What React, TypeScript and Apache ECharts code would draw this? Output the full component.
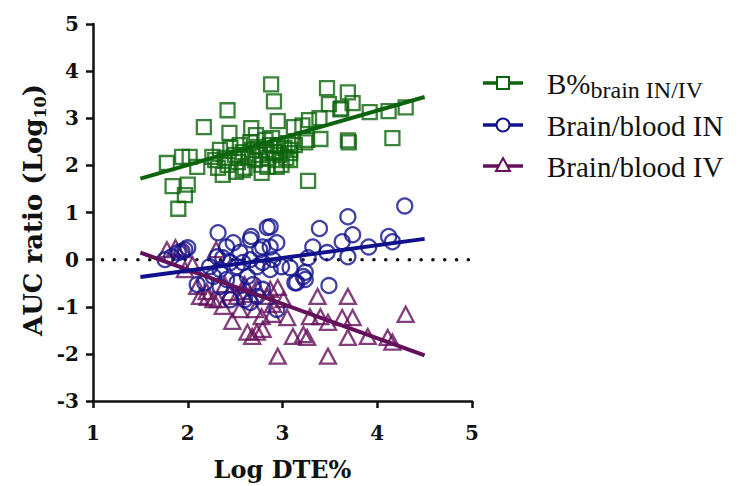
import React, { useEffect, useRef } from "react";
import * as echarts from "echarts";

// Log DTE% (x) vs AUC ratio Log10 (y)
const bPercentBrain: number[][] = [
  [2.88, 3.72], [2.91, 3.36], [3.47, 3.64], [3.69, 3.55], [3.74, 3.32], [3.49, 3.3],
  [3.62, 3.21], [2.42, 3.17], [3.92, 3.13], [4.12, 3.15], [4.3, 3.23], [2.17, 2.81],
  [3.28, 2.96], [3.39, 3.0], [3.12, 2.81], [2.95, 2.94], [2.67, 2.79], [2.44, 2.69],
  [3.26, 2.54], [3.4, 2.56], [3.7, 2.49], [3.69, 2.53], [4.16, 2.58], [1.78, 2.05],
  [1.94, 2.18], [2.02, 2.18], [2.1, 1.97], [1.84, 1.56], [2.0, 1.59], [1.97, 1.37],
  [1.9, 1.08], [3.27, 1.67], [2.37, 1.8], [2.58, 1.9], [2.84, 1.97], [2.94, 1.97],
  [3.08, 2.26], [3.21, 2.85], [3.24, 2.49], [3.61, 3.19], [2.34, 2.33], [2.39, 2.16],
  [2.45, 2.37], [2.5, 2.22], [2.53, 2.07], [2.55, 2.43], [2.58, 2.28], [2.6, 1.95],
  [2.64, 2.16], [2.66, 2.49], [2.68, 2.33], [2.71, 2.11], [2.74, 2.39], [2.76, 2.22],
  [2.78, 2.01], [2.82, 2.54], [2.83, 2.33], [2.85, 2.16], [2.87, 2.43], [2.89, 2.58],
  [2.91, 2.28], [2.93, 2.11], [2.95, 2.43], [2.97, 2.22], [2.99, 2.01], [3.02, 2.37],
  [3.04, 2.16], [3.06, 2.47], [3.08, 2.33], [2.78, 1.84], [2.51, 1.86], [2.42, 2.01],
  [3.08, 2.11], [2.72, 2.64], [2.29, 2.11], [3.13, 2.43], [2.26, 2.18], [2.32, 1.95],
];

const brainBloodIN: number[][] = [
  [4.29, 1.14], [3.69, 0.91], [3.39, 0.66], [3.74, 0.53], [3.63, 0.38], [4.12, 0.49],
  [4.16, 0.38], [3.91, 0.27], [3.69, 0.06], [3.47, 0.15], [3.32, 0.27], [3.27, 0.04],
  [3.24, -0.27], [3.24, -0.42], [3.13, -0.49], [3.49, -0.55], [3.08, -0.17], [2.99, -0.15],
  [2.87, 0.7], [2.84, 0.68], [2.67, 0.49], [2.66, 0.42], [2.32, 0.57], [2.94, 0.36],
  [2.87, 0.27], [2.79, 0.27], [2.41, 0.27], [2.48, 0.36], [2.0, 0.25], [1.97, 0.21],
  [1.94, 0.17], [1.9, 0.15], [1.83, 0.06], [1.76, 0.0], [2.1, -0.53], [2.18, -0.49],
  [2.23, -0.15], [2.34, -0.21], [2.45, -0.85], [2.6, -0.85], [2.66, -0.91], [2.73, -0.78],
  [2.79, -0.63], [2.94, -1.06], [2.34, -0.57], [2.27, -0.36], [2.45, -0.06], [2.52, -0.15],
  [2.58, -0.06], [2.66, 0.0], [2.73, -0.15], [2.79, -0.06], [2.87, -0.21], [2.9, 0.0],
  [2.63, -0.36], [2.52, -0.49], [2.41, -0.42], [2.69, -0.53], [2.31, 0.06], [2.37, 0.04],
  [3.15, -0.49], [3.22, -0.36], [2.55, 0.15], [2.76, 0.21],
];

const brainBloodIV: number[][] = [
  [1.78, 0.21], [1.87, 0.25], [1.95, 0.21], [2.3, 0.21], [2.1, -0.57], [2.13, -0.78],
  [2.21, -0.8], [2.32, -0.85], [2.37, -0.99], [2.47, -1.31], [2.63, -1.54], [2.68, -1.63],
  [2.73, -1.54], [2.79, -1.48], [2.95, -2.05], [2.78, -1.21], [2.89, -1.16], [2.95, -0.59],
  [3.05, -1.23], [3.11, -1.63], [3.22, -1.59], [3.26, -1.65], [3.29, -1.21], [3.37, -0.78],
  [3.4, -1.21], [3.48, -2.05], [3.48, -1.33], [3.63, -1.23], [3.69, -0.78], [3.74, -1.23],
  [3.69, -1.65], [3.9, -1.63], [4.11, -1.65], [4.16, -1.75], [4.3, -1.16], [2.45, -0.7],
  [2.52, -0.78], [2.58, -0.68], [2.66, -0.74], [2.73, -0.59], [2.84, -0.78], [2.87, -0.63],
  [2.2, -0.68], [2.27, -0.85], [2.55, -1.06], [2.71, -1.06], [2.9, -0.95], [3.01, -0.85],
  [2.39, -0.53], [2.6, -0.53], [2.05, -0.11], [1.97, -0.21],
];

// Regression line end points
const fitBPercent: number[][] = [[1.5, 1.72], [4.5, 3.45]];
const fitIN: number[][] = [[1.5, -0.37], [4.5, 0.44]];
const fitIV: number[][] = [[1.5, 0.15], [4.5, -2.03]];
const zeroLine: number[][] = [[1.1, 0], [5, 0]];

const xTicks = [1, 2, 3, 4, 5];
const yTicks = [-3, -2, -1, 0, 1, 2, 3, 4, 5];

const GREEN = "#0b640b";
const BLUE = "#11118c";
const PURPLE = "#640f5a";

export default function App() {
  const ref = useRef<HTMLDivElement>(null);
  useEffect(() => {
    document.body.style.margin = "0";
    if (!ref.current) return;
    const chart = echarts.init(ref.current, undefined, { renderer: "svg" });
    const hollow = (c: string) => ({ color: "rgba(255,255,255,0)", borderColor: c, borderWidth: 2.3 });
    const fit = (data: number[][], c: string) => ({
      type: "line",
      data,
      symbol: "none",
      lineStyle: { color: c, width: 4 },
      z: 5,
    });
    const axisFont = { fontFamily: "DejaVu Serif", fontWeight: "bold", fontSize: 20, color: "#111" };
    chart.setOption({
      animation: false,
      backgroundColor: "#fff",
      grid: { left: 93, right: 269, top: 24, bottom: 83 },
      xAxis: {
        type: "value",
        min: xTicks[0],
        max: xTicks[xTicks.length - 1],
        interval: 1,
        name: "Log DTE%",
        nameLocation: "middle",
        nameGap: 56,
        nameTextStyle: { fontFamily: "DejaVu Serif", fontWeight: "bold", fontSize: 24, color: "#111" },
        axisLine: { onZero: false, lineStyle: { color: "#111", width: 2.5 } },
        axisTick: { show: true, length: 7, lineStyle: { color: "#111", width: 2.5 } },
        axisLabel: { ...axisFont, margin: 22 },
        splitLine: { show: false },
      },
      yAxis: {
        type: "value",
        min: yTicks[0],
        max: yTicks[yTicks.length - 1],
        interval: 1,
        axisLine: { show: true, onZero: false, lineStyle: { color: "#111", width: 2.5 } },
        axisTick: { show: true, length: 7, lineStyle: { color: "#111", width: 2.5 } },
        axisLabel: { ...axisFont, margin: 14 },
        splitLine: { show: false },
      },
      series: [
        {
          type: "line",
          data: zeroLine,
          symbol: "none",
          lineStyle: { color: "#111", width: 3.5, type: [0.1, 11.7], cap: "round" },
          z: 1,
        },
        { type: "scatter", data: brainBloodIV, symbol: "triangle", symbolSize: [16, 15], itemStyle: hollow(PURPLE), z: 2 },
        fit(fitIV, PURPLE),
        { type: "scatter", data: brainBloodIN, symbol: "circle", symbolSize: 15, itemStyle: hollow(BLUE), z: 3 },
        fit(fitIN, BLUE),
        { type: "scatter", data: bPercentBrain, symbol: "rect", symbolSize: 14, itemStyle: hollow(GREEN), z: 4 },
        fit(fitBPercent, GREEN),
      ],
      graphic: [
        {
          type: "text",
          x: 33,
          y: 210,
          rotation: Math.PI / 2,
          style: {
            text: "{m|AUC ratio (Log}{s|10}{m|)}",
            align: "center",
            verticalAlign: "middle",
            rich: {
              m: { fontFamily: "DejaVu Serif", fontWeight: "bold", fontSize: 26, fill: "#111" },
              s: { fontFamily: "DejaVu Serif", fontWeight: "bold", fontSize: 16, fill: "#111", padding: [14, 0, 0, 0] },
            },
          },
        },
        // legend
        { type: "line", shape: { x1: 483, y1: 83, x2: 523, y2: 83 }, style: { stroke: GREEN, lineWidth: 3.5 } },
        { type: "rect", shape: { x: 497, y: 77, width: 12, height: 12 }, style: { fill: "#fff", stroke: GREEN, lineWidth: 2 } },
        { type: "line", shape: { x1: 483, y1: 125, x2: 523, y2: 125 }, style: { stroke: BLUE, lineWidth: 3.5 } },
        { type: "circle", shape: { cx: 503, cy: 125, r: 6.5 }, style: { fill: "#fff", stroke: BLUE, lineWidth: 2 } },
        { type: "line", shape: { x1: 483, y1: 166, x2: 523, y2: 166 }, style: { stroke: PURPLE, lineWidth: 3.5 } },
        { type: "polygon", shape: { points: [[503, 158], [510, 171], [496, 171]] }, style: { fill: "#fff", stroke: PURPLE, lineWidth: 2 } },
        {
          type: "text",
          x: 547,
          y: 84,
          style: {
            text: "{m|B%}{s|brain IN/IV}",
            verticalAlign: "middle",
            rich: {
              m: { fontFamily: "Liberation Serif", fontSize: 29, fill: "#111" },
              s: { fontFamily: "Liberation Serif", fontSize: 24, fill: "#111", padding: [12, 0, 0, 0] },
            },
          },
        },
        {
          type: "text",
          x: 547,
          y: 126,
          style: { text: "Brain/blood IN", verticalAlign: "middle", fontFamily: "Liberation Serif", fontSize: 29, fill: "#111" },
        },
        {
          type: "text",
          x: 547,
          y: 167,
          style: { text: "Brain/blood IV", verticalAlign: "middle", fontFamily: "Liberation Serif", fontSize: 29, fill: "#111" },
        },
      ],
    });
    return () => chart.dispose();
  }, []);
  return <div ref={ref} style={{ width: 741, height: 486 }} />;
}
